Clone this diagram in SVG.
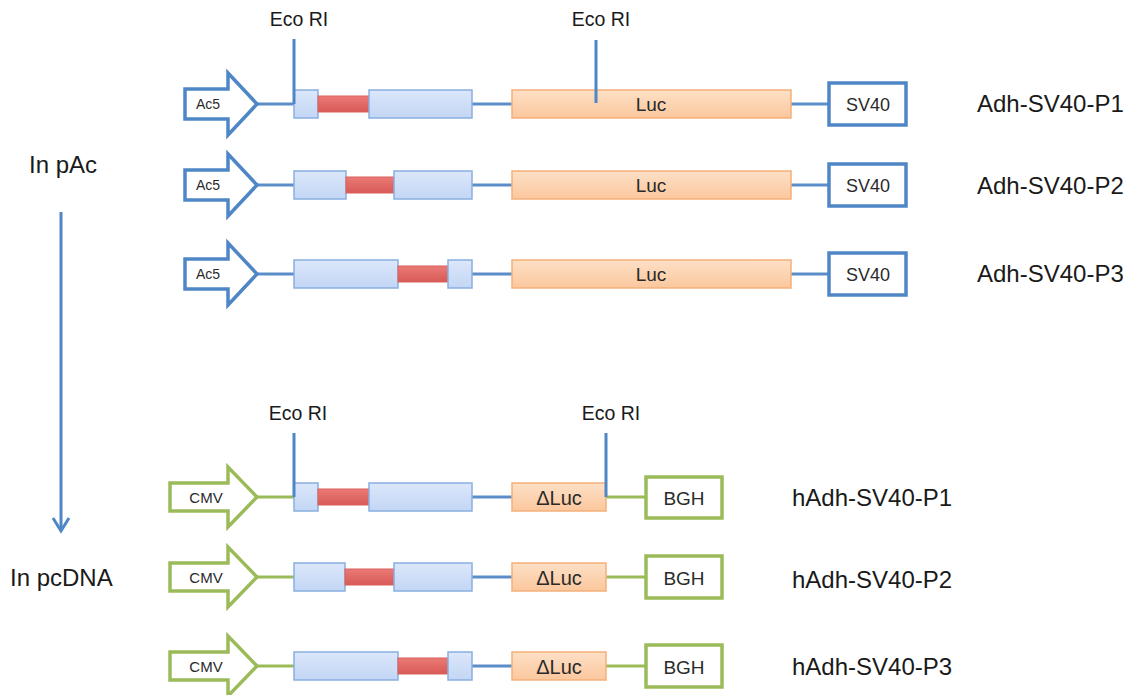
<svg xmlns="http://www.w3.org/2000/svg" width="1138" height="695" viewBox="0 0 1138 695">
  <defs>
    <linearGradient id="gBlue" x1="0" y1="0" x2="0" y2="1">
      <stop offset="0" stop-color="#dbe7fb"/>
      <stop offset="1" stop-color="#c3d6f4"/>
    </linearGradient>
    <linearGradient id="gRed" x1="0" y1="0" x2="0" y2="1">
      <stop offset="0" stop-color="#ea7a76"/>
      <stop offset="1" stop-color="#d85a56"/>
    </linearGradient>
    <linearGradient id="gOrange" x1="0" y1="0" x2="0" y2="1">
      <stop offset="0" stop-color="#fde0c6"/>
      <stop offset="1" stop-color="#fbc79d"/>
    </linearGradient>
  </defs>
  <style>
    text { font-family: "Liberation Sans", Arial, sans-serif; fill: #1a1a1a; }
    .bb { stroke: #5b8ec8; stroke-width: 3; fill: none; }
    .bbg { stroke: #9bbb59; stroke-width: 3; fill: none; }
    .exon { fill: url(#gBlue); stroke: #8aaee0; stroke-width: 1.5; }
    .intron { fill: url(#gRed); stroke: #d9605c; stroke-width: 1; }
    .luc { fill: url(#gOrange); stroke: #f4b07a; stroke-width: 1.5; }
    .pA { fill: #ffffff; stroke: #4f86c6; stroke-width: 3.5; }
    .pC { fill: #ffffff; stroke: #9bbb59; stroke-width: 3.5; }
    .site { stroke: #4f86c6; stroke-width: 3; fill: none; }
    .lbl { font-size: 24px; }
    .eco { font-size: 19.5px; text-anchor: middle; }
    .inbox { text-anchor: middle; fill: #2a2a2a; }
  </style>

  <!-- side annotations -->
  <g id="label-pAc"><text class="lbl" x="29" y="173">In pAc</text></g>
  <g id="label-pcDNA"><text class="lbl" x="10" y="586">In pcDNA</text></g>

  <g id="connectors">
    <line x1="61" y1="212" x2="61" y2="531" class="site"/>
    <polyline points="53,518 61,531 69,518" class="site" stroke-linejoin="miter"/>
  </g>

  <!-- restriction sites, pAc series -->
  <g id="eco-upper">
    <text class="eco" x="299" y="26">Eco RI</text>
    <text class="eco" x="601" y="26">Eco RI</text>
  </g>

  <!-- Adh-SV40-P1 in pAc -->
  <g id="adh-p1" transform="translate(0,104)">
    <line x1="257" y1="0" x2="294" y2="0" class="bb"/>
    <line x1="472" y1="0" x2="512" y2="0" class="bb"/>
    <line x1="791" y1="0" x2="829" y2="0" class="bb"/>
    <polygon class="pA" points="185,-15 228,-15 228,-31 257,0 228,31 228,15 185,15"/>
    <text class="inbox" x="208" y="5" font-size="14">Ac5</text>
    <rect class="exon" x="294" y="-14" width="24" height="28"/>
    <rect class="intron" x="318" y="-8" width="51" height="16"/>
    <rect class="exon" x="369" y="-14" width="103" height="28"/>
    <rect class="luc" x="512" y="-14" width="279" height="28"/>
    <text class="inbox" x="651" y="7" font-size="19">Luc</text>
    <rect class="pA" x="829" y="-21" width="77" height="42"/>
    <text class="inbox" x="868" y="7" font-size="18">SV40</text>
    <line x1="294" y1="-65" x2="294" y2="0" class="site"/>
    <line x1="596" y1="-64" x2="596" y2="-1" class="site"/>
    <text class="lbl" x="977" y="8">Adh-SV40-P1</text>
  </g>

  <!-- Adh-SV40-P2 in pAc -->
  <g id="adh-p2" transform="translate(0,185)">
    <line x1="257" y1="0" x2="294" y2="0" class="bb"/>
    <line x1="472" y1="0" x2="512" y2="0" class="bb"/>
    <line x1="791" y1="0" x2="829" y2="0" class="bb"/>
    <polygon class="pA" points="185,-15 228,-15 228,-31 257,0 228,31 228,15 185,15"/>
    <text class="inbox" x="208" y="5" font-size="14">Ac5</text>
    <rect class="exon" x="294" y="-14" width="52" height="28"/>
    <rect class="intron" x="346" y="-8" width="48" height="16"/>
    <rect class="exon" x="394" y="-14" width="78" height="28"/>
    <rect class="luc" x="512" y="-14" width="279" height="28"/>
    <text class="inbox" x="651" y="7" font-size="19">Luc</text>
    <rect class="pA" x="829" y="-21" width="77" height="42"/>
    <text class="inbox" x="868" y="7" font-size="18">SV40</text>
    <text class="lbl" x="977" y="9">Adh-SV40-P2</text>
  </g>

  <!-- Adh-SV40-P3 in pAc -->
  <g id="adh-p3" transform="translate(0,274)">
    <line x1="257" y1="0" x2="294" y2="0" class="bb"/>
    <line x1="472" y1="0" x2="512" y2="0" class="bb"/>
    <line x1="791" y1="0" x2="829" y2="0" class="bb"/>
    <polygon class="pA" points="185,-15 228,-15 228,-31 257,0 228,31 228,15 185,15"/>
    <text class="inbox" x="208" y="5" font-size="14">Ac5</text>
    <rect class="exon" x="294" y="-14" width="104" height="28"/>
    <rect class="intron" x="398" y="-8" width="50" height="16"/>
    <rect class="exon" x="448" y="-14" width="24" height="28"/>
    <rect class="luc" x="512" y="-14" width="279" height="28"/>
    <text class="inbox" x="651" y="7" font-size="19">Luc</text>
    <rect class="pA" x="829" y="-21" width="77" height="42"/>
    <text class="inbox" x="868" y="7" font-size="18">SV40</text>
    <text class="lbl" x="977" y="8">Adh-SV40-P3</text>
  </g>

  <!-- restriction sites, pcDNA series -->
  <g id="eco-lower">
    <text class="eco" x="298" y="420">Eco RI</text>
    <text class="eco" x="611" y="420">Eco RI</text>
  </g>

  <!-- hAdh-SV40-P1 in pcDNA -->
  <g id="hadh-p1" transform="translate(0,497)">
    <line x1="257" y1="0" x2="294" y2="0" class="bbg"/>
    <line x1="472" y1="0" x2="512" y2="0" class="bb"/>
    <line x1="606" y1="0" x2="646" y2="0" class="bbg"/>
    <polygon class="pC" points="170,-14 228,-14 228,-30 257,0 228,30 228,14 170,14"/>
    <text class="inbox" x="206" y="6" font-size="15">CMV</text>
    <rect class="exon" x="294" y="-14" width="24" height="28"/>
    <rect class="intron" x="318" y="-8" width="51" height="16"/>
    <rect class="exon" x="369" y="-14" width="103" height="28"/>
    <rect class="luc" x="512" y="-14" width="94" height="28"/>
    <text class="inbox" x="559" y="8" font-size="20">ΔLuc</text>
    <rect class="pC" x="646" y="-20" width="76" height="41"/>
    <text class="inbox" x="684" y="8" font-size="19">BGH</text>
    <line x1="294" y1="-64" x2="294" y2="0" class="site"/>
    <line x1="606" y1="-64" x2="606" y2="0" class="site"/>
    <text class="lbl" x="792" y="9">hAdh-SV40-P1</text>
  </g>

  <!-- hAdh-SV40-P2 in pcDNA -->
  <g id="hadh-p2" transform="translate(0,577)">
    <line x1="257" y1="0" x2="294" y2="0" class="bbg"/>
    <line x1="472" y1="0" x2="512" y2="0" class="bb"/>
    <line x1="606" y1="0" x2="646" y2="0" class="bbg"/>
    <polygon class="pC" points="170,-14 228,-14 228,-30 257,0 228,30 228,14 170,14"/>
    <text class="inbox" x="206" y="6" font-size="15">CMV</text>
    <rect class="exon" x="294" y="-14" width="51" height="28"/>
    <rect class="intron" x="345" y="-8" width="49" height="16"/>
    <rect class="exon" x="394" y="-14" width="78" height="28"/>
    <rect class="luc" x="512" y="-14" width="94" height="28"/>
    <text class="inbox" x="559" y="8" font-size="20">ΔLuc</text>
    <rect class="pC" x="646" y="-21" width="76" height="42"/>
    <text class="inbox" x="684" y="8" font-size="19">BGH</text>
    <text class="lbl" x="792" y="11">hAdh-SV40-P2</text>
  </g>

  <!-- hAdh-SV40-P3 in pcDNA -->
  <g id="hadh-p3" transform="translate(0,666)">
    <line x1="257" y1="0" x2="294" y2="0" class="bbg"/>
    <line x1="472" y1="0" x2="512" y2="0" class="bb"/>
    <line x1="606" y1="0" x2="646" y2="0" class="bbg"/>
    <polygon class="pC" points="170,-14 228,-14 228,-30 257,0 228,30 228,14 170,14"/>
    <text class="inbox" x="206" y="6" font-size="15">CMV</text>
    <rect class="exon" x="294" y="-14" width="104" height="28"/>
    <rect class="intron" x="398" y="-8" width="50" height="16"/>
    <rect class="exon" x="448" y="-14" width="24" height="28"/>
    <rect class="luc" x="512" y="-14" width="94" height="28"/>
    <text class="inbox" x="559" y="8" font-size="20">ΔLuc</text>
    <rect class="pC" x="646" y="-21" width="76" height="42"/>
    <text class="inbox" x="684" y="8" font-size="19">BGH</text>
    <text class="lbl" x="792" y="9">hAdh-SV40-P3</text>
  </g>
</svg>
